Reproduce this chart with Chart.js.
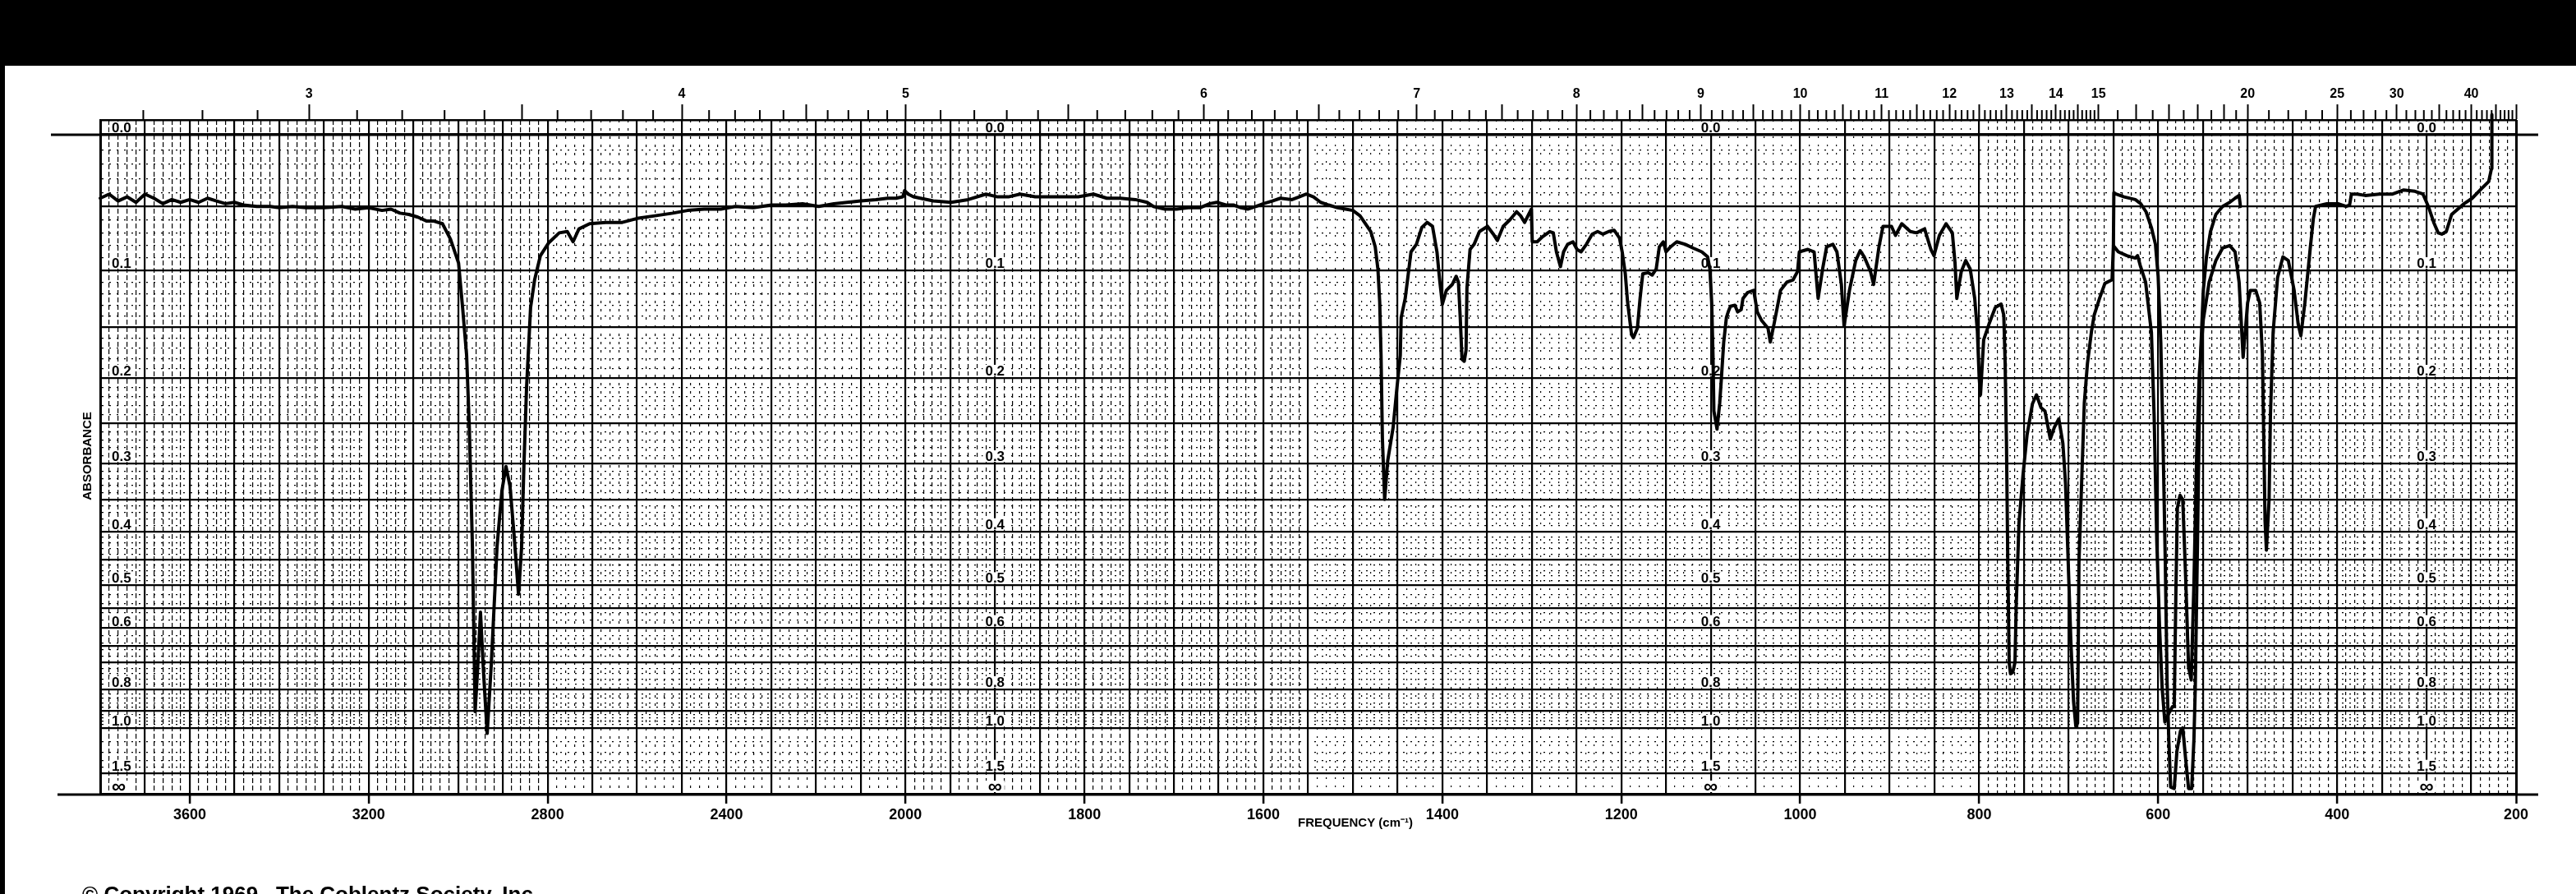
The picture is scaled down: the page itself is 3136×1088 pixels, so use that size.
<!DOCTYPE html>
<html>
<head>
<meta charset="utf-8">
<title>Infrared spectrum</title>
<script src="https://cdn.jsdelivr.net/npm/chart.js@4.4.0/dist/chart.umd.min.js"></script>
<style>
  html, body { margin: 0; padding: 0; background: #fff; }
  canvas { display: block; }
</style>
</head>
<body>
<canvas id="spectrum" width="3136" height="1088"></canvas>
<script>
// spectrum: frequency (cm-1) and absorbance
var mainWavenumber = [
  3800,3780,3760,3740,3720,3700,3680,3660,3640,3620,
  3600,3580,3560,3540,3520,3500,3480,3450,3420,3400,
  3370,3340,3300,3260,3230,3200,3170,3150,3130,3110,
  3090,3070,3054,3035,3017,2999,2990,2981,2975,2968,
  2962,2957,2950,2943,2935,2926,2913,2902,2893,2884,
  2875,2865,2858,2853,2847,2838,2829,2816,2798,2774,
  2756,2743,2730,2706,2670,2633,2600,2560,2520,2487,
  2450,2413,2380,2340,2300,2267,2230,2194,2160,2130,
  2100,2066,2040,2021,2006,2002,1997,1991,1969,1949,
  1930,1910,1897,1885,1872,1855,1840,1820,1807,1790,
  1775,1760,1743,1730,1723,1710,1697,1684,1671,1660,
  1652,1642,1633,1625,1617,1608,1600,1590,1581,1568,
  1560,1552,1544,1536,1527,1517,1508,1500,1492,1484,
  1480,1475,1472,1470,1468.5,1467,1464.5,1461,1455,1451,
  1447,1446,1441.5,1435,1429,1423,1417,1411,1406,1403,
  1400,1395.5,1389,1384.5,1382,1380,1378,1375.5,1373.5,1372.5,
  1369,1364.5,1358.5,1349.5,1343,1338.5,1332,1324.5,1317,1312.5,
  1308,1300.5,1299.5,1294,1288,1280,1276,1272.5,1268,1264.5,
  1260,1254,1249.5,1245,1239,1232.5,1226.5,1220.5,1214,1208,
  1202,1199,1195.5,1193,1188.5,1186.5,1182,1179,1176,1170,
  1165.5,1161,1157.5,1153,1150,1145,1138,1128.5,1119.5,1110,
  1103.5,1101,1099,1097.5,1096.5,1093,1090,1088.5,1085.5,1082.5,
  1080.5,1078,1073,1070,1066,1064,1059,1052,1048,1043,
  1036,1033.5,1029,1022,1015,1008,1003,1001,991.5,984.5,
  980,975,970.5,963.5,959,954,951,945,938,933,
  928.5,921.5,918,912,907.5,898,893.5,886.5,877,870,
  861,854,850.5,844.5,837,830,827,825,820,815,
  810,805,802,800,798.5,795,789,782,775.5,772.5,
  771,769.5,768,766.5,765,762.5,760,758.5,755.5,751,
  746.5,740.5,736,731,726.5,720.5,716,711,706.5,703.5,
  700.5,697.5,694.5,692,690,688.5,685.5,682.5,679,674.5,
  671.5,665.5,659.5,651.5,650,644.5,635,625.5,623,620,
  614,607.5,604.5,601.5,598.5,595.5,592.5,588,584,582,
  580,578.5,575.5,572.5,569,566,563,560,557,554,
  549.5,543,535.5,528,520,514,509.5,506.5,505,500,
  497,491,486.5,483.5,482,480.5,479,476,474.5,471.5,
  466.5,460.5,454.5,448,443.5,440.5,436,430,426.5,424,
  411.5,399,390,386,384,377.5,368.5,353,338,325.5,
  313,304,298,292,287,283,278,272,258,249,
  240,230.5,227.5,227
];
var mainAbsorbance = [
  0.044,0.041,0.046,0.043,0.047,0.041,0.044,0.048,0.045,0.047,
  0.045,0.047,0.044,0.046,0.048,0.047,0.049,0.050,0.050,0.051,
  0.050,0.051,0.051,0.050,0.052,0.051,0.053,0.052,0.055,0.056,
  0.058,0.061,0.061,0.063,0.075,0.094,0.132,0.177,0.254,0.426,
  0.904,0.740,0.560,0.740,1.038,0.711,0.426,0.337,0.304,0.331,
  0.405,0.519,0.426,0.304,0.210,0.132,0.108,0.088,0.078,0.070,
  0.069,0.077,0.067,0.063,0.062,0.062,0.059,0.057,0.055,0.053,
  0.052,0.052,0.050,0.051,0.049,0.049,0.048,0.050,0.048,0.047,
  0.046,0.045,0.044,0.044,0.043,0.0385,0.041,0.043,0.046,0.047,
  0.045,0.041,0.043,0.043,0.041,0.043,0.043,0.043,0.043,0.041,
  0.044,0.044,0.045,0.047,0.050,0.052,0.052,0.051,0.051,0.048,
  0.047,0.049,0.049,0.051,0.052,0.050,0.048,0.046,0.044,0.045,
  0.043,0.041,0.043,0.047,0.049,0.051,0.052,0.053,0.057,0.065,
  0.069,0.081,0.099,0.127,0.177,0.268,0.350,0.296,0.255,0.213,
  0.177,0.141,0.124,0.085,0.079,0.066,0.062,0.065,0.085,0.108,
  0.129,0.117,0.112,0.105,0.110,0.141,0.181,0.183,0.172,0.115,
  0.083,0.079,0.069,0.065,0.071,0.076,0.065,0.060,0.054,0.057,
  0.062,0.052,0.077,0.077,0.073,0.069,0.070,0.085,0.097,0.085,
  0.079,0.077,0.083,0.085,0.079,0.071,0.069,0.071,0.069,0.068,
  0.074,0.085,0.103,0.127,0.157,0.160,0.151,0.124,0.103,0.102,
  0.104,0.099,0.081,0.077,0.085,0.081,0.077,0.079,0.082,0.085,
  0.089,0.099,0.127,0.177,0.236,0.257,0.227,0.206,0.164,0.141,
  0.136,0.131,0.130,0.136,0.134,0.124,0.119,0.117,0.136,0.144,
  0.151,0.164,0.146,0.117,0.110,0.108,0.101,0.085,0.083,0.085,
  0.124,0.099,0.081,0.079,0.085,0.112,0.149,0.117,0.092,0.084,
  0.089,0.101,0.112,0.081,0.065,0.065,0.072,0.063,0.069,0.070,
  0.067,0.083,0.088,0.072,0.063,0.070,0.094,0.124,0.101,0.092,
  0.099,0.124,0.154,0.200,0.218,0.162,0.147,0.132,0.129,0.139,
  0.185,0.274,0.456,0.700,0.740,0.735,0.700,0.537,0.386,0.315,
  0.264,0.228,0.218,0.232,0.236,0.269,0.255,0.245,0.274,0.327,
  0.455,0.639,0.855,0.990,0.970,0.455,0.326,0.227,0.185,0.154,
  0.139,0.124,0.111,0.108,0.080,0.085,0.088,0.090,0.088,0.096,
  0.110,0.155,0.241,0.417,0.592,0.796,0.963,0.913,0.879,0.879,
  0.496,0.363,0.344,0.350,0.496,0.717,0.763,0.496,0.292,0.196,
  0.143,0.110,0.092,0.082,0.080,0.085,0.110,0.155,0.179,0.128,
  0.117,0.117,0.128,0.175,0.266,0.383,0.432,0.350,0.241,0.155,
  0.106,0.089,0.092,0.117,0.147,0.158,0.128,0.082,0.059,0.050,
  0.048,0.048,0.050,0.049,0.041,0.041,0.042,0.041,0.041,0.038,
  0.039,0.041,0.050,0.062,0.070,0.071,0.069,0.056,0.048,0.044,
  0.038,0.032,0.023,-0.013
];
// second (thinner) recording over 650-508 cm-1
var upperWavenumber = [
  650,649.5,647,638,625.5,619.5,613.5,607.5,603,600,
  597,594.5,592,590,588,586,582,579,575,572.5,
  569.5,566,562.5,560,558.5,556,554,552.5,549.5,546,
  541.5,535.5,528,520,514,509.5,508
];
var upperAbsorbance = [
  0.080,0.040,0.041,0.043,0.045,0.048,0.054,0.066,0.079,0.105,
  0.165,0.274,0.455,0.77,1.1,2.0,2.1,1.19,1.02,1.0,
  1.25,2.1,2.1,1.085,0.796,0.417,0.241,0.175,0.117,0.089,
  0.069,0.056,0.050,0.047,0.044,0.042,0.050
];

var freqLabels = [3600, 3200, 2800, 2400, 2000, 1800, 1600, 1400, 1200, 1000, 800, 600, 400, 200];
var micronLabels = [3, 4, 5, 6, 7, 8, 9, 10, 11, 12, 13, 14, 15, 20, 25, 30, 40];
var absLabels = ["0.0", "0.1", "0.2", "0.3", "0.4", "0.5", "0.6", "0.8", "1.0", "1.5", "\u221E"];
var absLabelValues = [0, 0.1, 0.2, 0.3, 0.4, 0.5, 0.6, 0.8, 1.0, 1.5, Infinity];
var labelColumns = [3800, 1900, 1100, 300];

var boldFont = "'Liberation Sans', Arial, sans-serif";
var narrowFont = "'Liberation Sans Narrow', 'Liberation Sans', Arial, sans-serif";

// paper position: the frequency scale doubles below 2000 cm-1
function toU(wn){ return wn >= 2000 ? (3800 - wn) / 2 : 900 + (2000 - wn); }
function toWn(u){ return u <= 900 ? 3800 - 2 * u : 2000 - (u - 900); }
// paper is linear in transmittance, labelled in absorbance
function toT(a){ return Math.pow(10, -a); }

function toPoints(wns, abs){
    return wns.map(function(w, i){ return {x: toU(w), y: toT(abs[i])}; });
}

// horizontal rulings of the absorbance paper
function absGrid(){
    var list = [{a: Infinity, heavy: true}];
    for (var i = 0; i <= 50; i++) list.push({a: i / 100, heavy: i % 5 === 0});
    for (var j = 26; j <= 50; j++) list.push({a: j / 50, heavy: j % 5 === 0});
    [0.55, 0.65].forEach(function(a){ list.push({a: a, heavy: true}); });
    [1.1, 1.2, 1.3, 1.4].forEach(function(a){ list.push({a: a, heavy: false}); });
    list.push({a: 1.5, heavy: true});
    return list.map(function(g){ return {value: g.a === Infinity ? 0 : toT(g.a), heavy: g.heavy, zero: g.a === 0}; })
               .sort(function(p, q){ return p.value - q.value; });
}

// wavelength (micron) ticks across the top
function micronTicks(){
    var list = [];
    for (var t = 27; t <= 150; t++) list.push({m: t / 10, long: t % 5 === 0});
    for (var h = 31; h <= 40; h++) list.push({m: h / 2, long: h % 2 === 0});
    for (var m = 21; m <= 50; m++) list.push({m: m, long: m % 5 === 0});
    return list.map(function(k){ return {value: toU(10000 / k.m), micron: k.m, long: k.long}; });
}

// dash of the light rulings changes across the paper
function minorDash(u){
    if (u < 500) return [6, 3];
    if (u < 900) return [3, 7];
    if (u < 1350) return [5, 4];
    if (u < 2100) return [2, 8];
    return [4, 4];
}

var paperPlugin = {
    id: 'paper',
    beforeDraw: function(chart){
        var c = chart.ctx;
        c.save();
        c.fillStyle = '#fff';
        c.fillRect(0, 0, chart.width, chart.height);
        c.fillStyle = '#000';
        c.fillRect(0, 0, chart.width, 80);
        c.fillRect(0, 0, 6, chart.height);
        c.restore();
    },
    beforeDatasetsDraw: function(chart){
        var c = chart.ctx, xs = chart.scales.x, ys = chart.scales.y;
        c.save();
        c.textBaseline = 'alphabetic';
        labelColumns.forEach(function(wn, col){
            var x0 = xs.getPixelForValue(toU(wn));
            absLabels.forEach(function(txt, i){
                var a = absLabelValues[i];
                var y = ys.getPixelForValue(a === Infinity ? 0 : toT(a));
                c.font = a === Infinity ? 'bold 24px ' + boldFont : 'bold 17px ' + narrowFont;
                var w = c.measureText(txt).width;
                var left = col === 0 ? x0 + 14 : x0 - w / 2;
                c.fillStyle = '#fff';
                c.fillRect(left - 3, y - 16, w + 6, 14);
                c.fillStyle = '#000';
                c.fillText(txt, left, a === Infinity ? y - 1 : y - 3);
            });
        });
        c.restore();
    },
    afterDraw: function(chart){
        var c = chart.ctx, area = chart.chartArea, ys = chart.scales.y, xt = chart.scales.xTop;
        c.save();
        c.strokeStyle = '#000';
        // 0.0 line and base line run past the grid
        c.lineWidth = 3;
        c.beginPath();
        c.moveTo(area.left - 60, ys.getPixelForValue(1));
        c.lineTo(area.right + 27, ys.getPixelForValue(1));
        c.moveTo(area.left - 52, area.bottom + 1);
        c.lineTo(area.right + 27, area.bottom + 1);
        c.stroke();
        // short micron ticks
        c.lineWidth = 2;
        c.beginPath();
        xt.ticks.forEach(function(t){
            if (t.long) return;
            var x = xt.getPixelForValue(t.value);
            c.moveTo(x, area.top - 12);
            c.lineTo(x, area.top);
        });
        c.stroke();
        // titles
        c.fillStyle = '#000';
        c.font = 'bold 15px ' + boldFont;
        c.textAlign = 'center';
        c.textBaseline = 'middle';
        c.fillText('FREQUENCY (cm\u207B\u00B9)', 1650, 1002);
        c.save();
        c.translate(107, 555);
        c.rotate(-Math.PI / 2);
        c.fillText('ABSORBANCE', 0, 0);
        c.restore();
        c.textAlign = 'left';
        c.textBaseline = 'alphabetic';
        c.font = 'bold 26px ' + boldFont;
        c.fillText('\u00A9 Copyright 1969   The Coblentz Society, Inc.', 100, 1097);
        c.restore();
    }
};

var ctx = document.getElementById('spectrum').getContext('2d');
var spectrum = new Chart(ctx, {
    type: 'line',
    data: {
        datasets: [{
            data: toPoints(mainWavenumber, mainAbsorbance),
            borderColor: '#000',
            borderWidth: 4,
            borderJoinStyle: 'round',
            borderCapStyle: 'round',
            pointRadius: 0,
            fill: false,
            tension: 0,
            clip: false,
            xAxisID: 'x',
            yAxisID: 'y'
        }, {
            data: toPoints(upperWavenumber, upperAbsorbance),
            borderColor: '#000',
            borderWidth: 4,
            borderJoinStyle: 'round',
            borderCapStyle: 'round',
            pointRadius: 0,
            fill: false,
            tension: 0,
            clip: false,
            xAxisID: 'x',
            yAxisID: 'y'
        }]
    },
    options: {
        responsive: false,
        animation: false,
        events: [],
        layout: { padding: { left: 0, right: 73, top: 0, bottom: 0 } },
        plugins: { legend: { display: false }, tooltip: { enabled: false } },
        scales: {
            x: {
                type: 'linear',
                position: 'bottom',
                min: 0,
                max: 2700,
                afterBuildTicks: function(axis){
                    var t = [];
                    for (var u = 0; u <= 2700; u += 10) t.push({value: u});
                    axis.ticks = t;
                },
                afterFit: function(axis){ axis.height = 122; },
                ticks: {
                    autoSkip: false,
                    maxRotation: 0,
                    padding: 3,
                    color: '#000',
                    font: { family: boldFont, size: 18, weight: 'bold' },
                    callback: function(value){
                        var wn = toWn(value);
                        return freqLabels.indexOf(wn) >= 0 ? String(wn) : '';
                    }
                },
                grid: {
                    color: '#000',
                    lineWidth: function(c){
                        if (!c.tick) return 1;
                        if (c.tick.value === 0 || c.tick.value === 2700) return 3;
                        return c.tick.value % 50 === 0 ? 2.2 : 1.2;
                    },
                    tickLength: 12,
                    tickWidth: 2.5,
                    tickColor: function(c){
                        return c.tick && freqLabels.indexOf(toWn(c.tick.value)) >= 0 ? '#000' : 'rgba(0,0,0,0)';
                    }
                },
                border: {
                    display: true,
                    color: '#000',
                    width: 3,
                    dash: function(c){
                        return c.tick && c.tick.value % 50 !== 0 ? minorDash(c.tick.value) : [];
                    }
                }
            },
            xTop: {
                type: 'linear',
                position: 'top',
                min: 0,
                max: 2700,
                afterBuildTicks: function(axis){ axis.ticks = micronTicks(); },
                afterFit: function(axis){ axis.height = 146; },
                ticks: {
                    autoSkip: false,
                    maxRotation: 0,
                    padding: 3,
                    color: '#000',
                    font: { family: boldFont, size: 16, weight: 'bold' },
                    callback: function(value, index, ticks){
                        var m = ticks[index].micron;
                        return micronLabels.indexOf(m) >= 0 ? String(m) : '';
                    }
                },
                grid: {
                    drawOnChartArea: false,
                    tickLength: 19,
                    tickWidth: 2,
                    tickColor: function(c){ return c.tick && c.tick.long ? '#000' : 'rgba(0,0,0,0)'; }
                },
                border: { display: true, color: '#000', width: 2.5 }
            },
            y: {
                type: 'linear',
                min: 0,
                max: 1.0224,
                afterBuildTicks: function(axis){ axis.ticks = absGrid(); },
                afterFit: function(axis){ axis.width = 122; },
                ticks: { display: false },
                grid: {
                    drawTicks: false,
                    color: '#000',
                    lineWidth: function(c){
                        if (!c.tick) return 1;
                        if (c.tick.zero) return 3;
                        return c.tick.heavy ? 2.2 : 1.2;
                    }
                },
                border: {
                    display: true,
                    color: '#000',
                    width: 3,
                    dash: function(c){ return c.tick && !c.tick.heavy ? [2, 7] : []; }
                }
            }
        }
    },
    plugins: [paperPlugin]
});
</script>
</body>
</html>
